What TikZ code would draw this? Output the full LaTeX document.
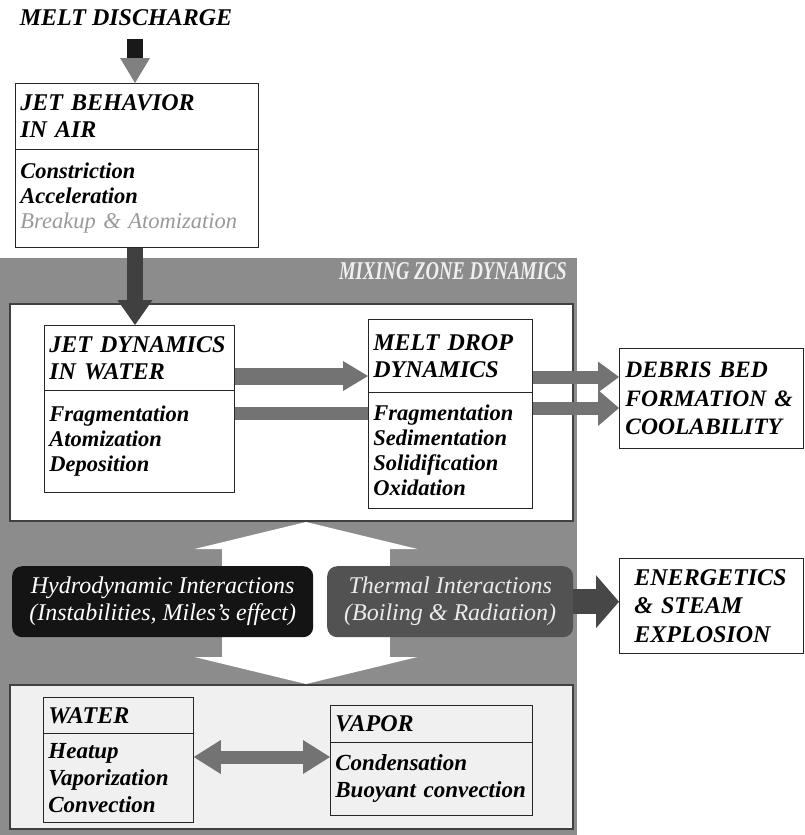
\documentclass[tikz,border=0pt]{standalone}
\usepackage{fontspec}
\setmainfont{Liberation Serif}
\usetikzlibrary{arrows.meta,calc}
\begin{document}
\begin{tikzpicture}[x=1pt,y=-1pt,
  ttl/.style={font=\fontsize{24}{27}\selectfont\bfseries\itshape},
  itm/.style={font=\fontsize{22.5}{25}\selectfont\bfseries\itshape},
  hdr/.style={draw=black!85, line width=0.8pt, fill=white, anchor=north west, align=left, inner xsep=5pt, inner ysep=0pt, ttl},
  bdy/.style={hdr, itm},
  outbox/.style={draw=black!85, line width=0.8pt, fill=white, anchor=north west, align=left, inner ysep=0pt,
     font=\fontsize{24}{28.5}\selectfont\bfseries\itshape},
  zone/.style={draw=black!75, line width=2pt, anchor=north west, inner sep=0pt},
  darkbox/.style={rounded corners=10pt, anchor=north west, align=center, inner sep=0pt,
     font=\fontsize{24}{27}\selectfont\itshape},
  hatch/.style={black!55},
]
\useasboundingbox (0,0) rectangle (804,835);

% mixing zone background band
\node[fill=black!45, minimum width=577, minimum height=577, anchor=north west, inner sep=0pt] (mz) at (0,258) {};
\node[anchor=north east, text=black!6, inner sep=0pt, font=\fontsize{19}{20}\selectfont\bfseries\itshape] (mzt) at (567,262)
  {\scalebox{0.98}[1.35]{MIXING ZONE DYNAMICS}};

% zones
\node[zone, fill=white, minimum width=563, minimum height=217] (upz) at (9,303) {};
\node[zone, fill=black!6, minimum width=563, minimum height=144] (loz) at (9,684) {};

% big white double arrow between zones
\draw[white, line width=168pt,
  {Triangle[width=223pt,length=27pt,line width=0pt]}-{Triangle[width=223pt,length=27pt,line width=0pt]}]
  (upz.south -| 306,0) -- (loz.north -| 306,0);

% title
\node[ttl, inner sep=0pt] (mdt) at (126,18) {MELT DISCHARGE};
\coordinate (md) at (135,39);

% jet behavior in air
\node[hdr, text width=233, minimum height=66] (jbat) at (15,83) {JET BEHAVIOR\\IN AIR};
\node[bdy, text width=233, minimum height=98] (jbab) at (15,149)
  {Constriction\\Acceleration\\{\mdseries\color{black!40}Breakup \& Atomization}};

% jet dynamics in water
\node[hdr, text width=180, minimum height=65] (jdwt) at (44,325) {JET DYNAMICS\\IN WATER};
\node[bdy, text width=180, minimum height=102] (jdwb) at (44,390) {Fragmentation\\Atomization\\Deposition};

% melt drop dynamics
\node[hdr, text width=154, minimum height=73] (mddt) at (368,319) {MELT DROP\\DYNAMICS};
\node[bdy, text width=154, minimum height=116] (mddb) at (368,392) {Fragmentation\\Sedimentation\\Solidification\\Oxidation};

% outside boxes
\node[outbox, inner xsep=6pt, text width=172, minimum height=100, font=\fontsize{23.5}{28.5}\selectfont\bfseries\itshape] (deb) at (619,348) {DEBRIS BED\\FORMATION~\&\\COOLABILITY};
\node[outbox, inner xsep=15pt, text width=154, minimum height=95] (en) at (619,558) {ENERGETICS\\\& STEAM\\EXPLOSION};

% interaction boxes
\node[darkbox, fill=black!92, text=white, minimum width=301, minimum height=71] (hyd) at (12,566)
  {Hydrodynamic Interactions\\(Instabilities, Miles's effect)};
\node[darkbox, fill=black!68, text=black!8, minimum width=246, minimum height=71] (thm) at (327,566)
  {Thermal Interactions\\(Boiling \& Radiation)};

% water and vapor
\node[hdr, fill=black!6, text width=140, minimum height=36] (wt) at (43,697) {WATER};
\node[bdy, fill=black!6, text width=140, minimum height=89, font=\fontsize{23}{27}\selectfont\bfseries\itshape] (wb) at (43,733) {Heatup\\Vaporization\\Convection};
\node[hdr, fill=black!6, text width=192, minimum height=37] (vt) at (330,705) {VAPOR};
\node[bdy, fill=black!6, text width=192, minimum height=73, font=\fontsize{23}{27}\selectfont\bfseries\itshape] (vb) at (330,742) {Condensation\\Buoyant convection};

% arrows
\draw[black!90, line width=16pt, -{Triangle[width=30pt,length=25pt,line width=0pt,fill=black!50]}]
  (md) -- (jbat.north -| md);
\draw[black!75, line width=16pt, -{Triangle[width=35pt,length=25pt,line width=0pt]}]
  (jbab.south -| md) -- (jdwt.north -| md);
\draw[hatch, line width=17pt, -{Triangle[width=30pt,length=25pt,line width=0pt]}]
  (jdwt.east |- 0,376) -- (mddt.west |- 0,376);
\draw[hatch, line width=13pt] (jdwb.east |- 0,413) -- (mddb.west |- 0,413);
\draw[hatch, line width=13pt, -{Triangle[width=31pt,length=21pt,line width=0pt]}]
  (mddt.east |- 0,377) -- (deb.west |- 0,377);
\draw[hatch, line width=13pt, -{Triangle[width=36pt,length=21pt,line width=0pt]}]
  (mddb.east |- 0,408) -- (deb.west |- 0,408);
\draw[black!72, line width=25pt, -{Triangle[width=53pt,length=23pt,line width=0pt]}]
  (thm.east) -- (en.west |- thm.east);
\draw[hatch, line width=13pt,
  {Triangle[width=34pt,length=27pt,line width=0pt]}-{Triangle[width=34pt,length=27pt,line width=0pt]}]
  (wb.east |- 0,757) -- (vb.west |- 0,757);
\end{tikzpicture}
\end{document}
